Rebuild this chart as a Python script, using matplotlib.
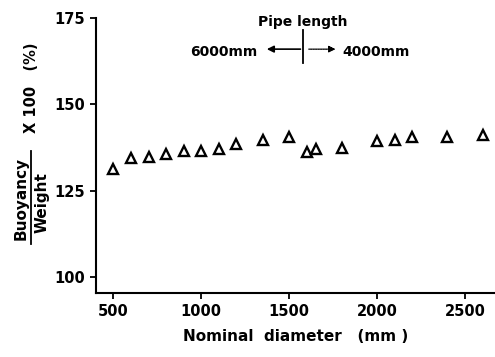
import matplotlib
matplotlib.use("Agg")
import matplotlib.pyplot as plt

# nominal pipe diameter (mm) and buoyancy/weight ratio x100 (%)
diameter = [500, 600, 700, 800, 900, 1000, 1100, 1200, 1350, 1500,
            1600, 1650, 1800, 2000, 2100, 2200, 2400, 2600]
ratio = [131.3, 134.5, 134.7, 135.6, 136.6, 136.6, 137.1, 138.5, 139.6, 140.7,
         136.4, 137.1, 137.3, 139.5, 139.7, 140.7, 140.7, 141.2]

xticks = [500, 1000, 1500, 2000, 2500]
yticks = [100, 125, 150, 175]

plt.rcParams["font.family"] = "DejaVu Sans"
plt.rcParams["font.weight"] = "bold"

W, H = 495, 357
fig = plt.figure(figsize=(W / 100, H / 100), dpi=100)
ax = fig.add_axes([96 / W, 64 / H, 1 - 96 / W, 275 / H])

ax.plot(diameter, ratio, linestyle="none", marker="^", markersize=7,
        markerfacecolor="white", markeredgecolor="black", markeredgewidth=1.7)

ax.set_xlim(401, 2671)
ax.set_ylim(95.5, 175)
ax.set_xticks(xticks)
ax.set_yticks(yticks)
ax.tick_params(axis="both", direction="out", length=4, width=1.3,
               labelsize=10.5, pad=4)
for s in ["top", "right"]:
    ax.spines[s].set_visible(False)
for s in ["left", "bottom"]:
    ax.spines[s].set_linewidth(1.5)

ax.set_xlabel("Nominal  diameter   (mm )", fontsize=11, fontweight="bold",
              labelpad=7)

# y label written as a fraction
def px(x, y):
    return x / W, 1 - y / H

fig.text(*px(21.5, 198), "Buoyancy", rotation=90, ha="center", va="center",
         fontsize=11, fontweight="bold")
fig.text(*px(42.5, 203), "Weight", rotation=90, ha="center", va="center",
         fontsize=11, fontweight="bold")
fig.add_artist(plt.Line2D([31.5 / W, 31.5 / W], [1 - 244 / H, 1 - 151 / H],
                          color="black", lw=1.3))
fig.text(*px(31, 88), "X 100   (%)", rotation=90, ha="center", va="center",
         fontsize=10.5, fontweight="bold")

# pipe length annotation
split = 1580
ax.plot([split, split], [162, 171.5], color="black", lw=1.3)
ax.annotate("", xy=(1357, 166), xytext=(split, 166),
            arrowprops=dict(arrowstyle="-|>", color="black", lw=1.2,
                            mutation_scale=10))
ax.annotate("", xy=(1779, 166), xytext=(split + 15, 166),
            arrowprops=dict(arrowstyle="-|>", color="black", lw=0.8,
                            linestyle=(0, (1, 0.5)), mutation_scale=10))
ax.text(1580, 173.8, "Pipe length", ha="center", va="center", fontsize=10)
ax.text(1317, 165.3, "6000mm", ha="right", va="center", fontsize=10)
ax.text(1800, 165.3, "4000mm", ha="left", va="center", fontsize=10)

fig.savefig("out.png", dpi=100)
